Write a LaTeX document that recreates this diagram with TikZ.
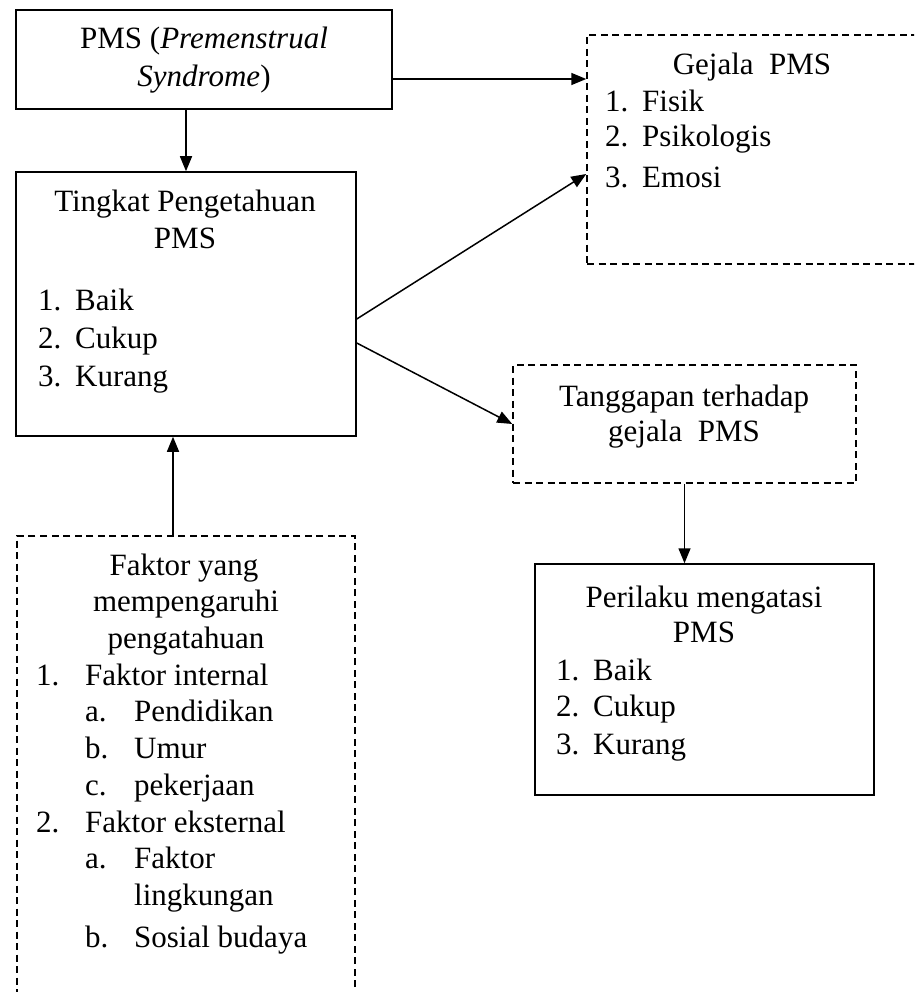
\documentclass[tikz,border=0pt]{standalone}
\usepackage{fontspec}
\setmainfont{Liberation Serif}
\usetikzlibrary{arrows.meta,calc}
\begin{document}
\begin{tikzpicture}[x=1pt,y=-1pt,
  solidbox/.style={draw,line width=1.5pt,inner sep=0pt},
  dashbox/.style={draw,line width=1.5pt,inner sep=0pt,dash pattern=on 7pt off 4.5pt},
  txt/.style={font=\fontsize{31}{37}\selectfont,inner sep=0pt},
  arr/.style={line width=1.5pt,-{Triangle[length=15pt,width=12pt]}}
]
\useasboundingbox (0,0) rectangle (914,992);
\clip (0,0) rectangle (914,992);
\fill[white] (0,0) rectangle (914,992);

% boxes
\node[solidbox,minimum width=376pt,minimum height=99pt] (pms) at (204,59.5) {};
\node[dashbox,minimum width=373pt,minimum height=229pt] (gej) at (773.5,149.5) {};
\node[solidbox,minimum width=340pt,minimum height=264pt] (ting) at (186,304) {};
\node[dashbox,minimum width=343pt,minimum height=118pt] (tang) at (684.5,424) {};
\node[solidbox,minimum width=339pt,minimum height=231pt] (peri) at (704.5,679.5) {};
\node[dashbox,minimum width=338pt,minimum height=504pt] (fak) at (186,788) {};

% PMS text
\node[txt,anchor=base] (p1) at (204,49) {PMS (\textit{Premenstrual}};
\node[txt,anchor=base] (p2) at (204,87) {\textit{Syndrome})};

% Gejala text
\node[txt,anchor=base] (g0) at (752,75) {Gejala\ \ PMS};
\node[txt,anchor=base west] (g1n) at (605,112) {1.};
\node[txt,anchor=base west] (g1) at (642,112) {Fisik};
\node[txt,anchor=base west] (g2n) at (605,147) {2.};
\node[txt,anchor=base west] (g2) at (642,147) {Psikologis};
\node[txt,anchor=base west] (g3n) at (605,188) {3.};
\node[txt,anchor=base west] (g3) at (642,188) {Emosi};

% Tingkat text
\node[txt,anchor=base] (t0) at (185,212) {Tingkat Pengetahuan};
\node[txt,anchor=base] (t00) at (185,248) {PMS};
\node[txt,anchor=base west] (t1n) at (38,310) {1.};
\node[txt,anchor=base west] (t1) at (75,310) {Baik};
\node[txt,anchor=base west] (t2n) at (38,348) {2.};
\node[txt,anchor=base west] (t2) at (75,348) {Cukup};
\node[txt,anchor=base west] (t3n) at (38,386) {3.};
\node[txt,anchor=base west] (t3) at (75,386) {Kurang};

% Tanggapan text
\node[txt,anchor=base] (a0) at (684,406) {Tanggapan terhadap};
\node[txt,anchor=base] (a1) at (684,441) {gejala\ \ PMS};

% Perilaku text
\node[txt,anchor=base] (r0) at (704,607) {Perilaku mengatasi};
\node[txt,anchor=base] (r00) at (704,642) {PMS};
\node[txt,anchor=base west] (r1n) at (556,680) {1.};
\node[txt,anchor=base west] (r1) at (593,680) {Baik};
\node[txt,anchor=base west] (r2n) at (556,716) {2.};
\node[txt,anchor=base west] (r2) at (593,716) {Cukup};
\node[txt,anchor=base west] (r3n) at (556,754) {3.};
\node[txt,anchor=base west] (r3) at (593,754) {Kurang};

% Faktor text
\node[txt,anchor=base] (f0) at (184,575) {Faktor yang};
\node[txt,anchor=base] (f00) at (186,611) {mempengaruhi};
\node[txt,anchor=base] (f000) at (186,648) {pengatahuan};
\node[txt,anchor=base west] (f1n) at (36,685) {1.};
\node[txt,anchor=base west] (f1) at (85,685) {Faktor internal};
\node[txt,anchor=base west] (f1an) at (85,721) {a.};
\node[txt,anchor=base west] (f1a) at (134,721) {Pendidikan};
\node[txt,anchor=base west] (f1bn) at (85,758) {b.};
\node[txt,anchor=base west] (f1b) at (134,758) {Umur};
\node[txt,anchor=base west] (f1cn) at (85,795) {c.};
\node[txt,anchor=base west] (f1c) at (134,795) {pekerjaan};
\node[txt,anchor=base west] (f2n) at (36,832) {2.};
\node[txt,anchor=base west] (f2) at (85,832) {Faktor eksternal};
\node[txt,anchor=base west] (f2an) at (85,868) {a.};
\node[txt,anchor=base west] (f2a) at (134,868) {Faktor};
\node[txt,anchor=base west] (f2a2) at (134,905) {lingkungan};
\node[txt,anchor=base west] (f2bn) at (85,947) {b.};
\node[txt,anchor=base west] (f2b) at (134,947) {Sosial budaya};

% connector end points
\coordinate (pmsE) at ([yshift=-19.5pt]pms.east);
\coordinate (tingE1) at ([yshift=-15pt]ting.east);
\coordinate (gejW1) at ([yshift=-24.5pt]gej.west);
\coordinate (tingE2) at ([yshift=-39pt]ting.east);
\coordinate (fakN) at ([xshift=-13pt]fak.north);

% connectors
\draw[arr] (ting.north |- pms.south) -- (ting.north);
\draw[arr] (pmsE) -- (gej.west |- pmsE);
\draw[arr] (tingE1) -- (gejW1);
\draw[arr] (tingE2) -- (tang.west);
\draw[arr] (tang.south) -- (tang.south |- peri.north);
\draw[arr] (fakN) -- (ting.south -| fakN);
\end{tikzpicture}
\end{document}
